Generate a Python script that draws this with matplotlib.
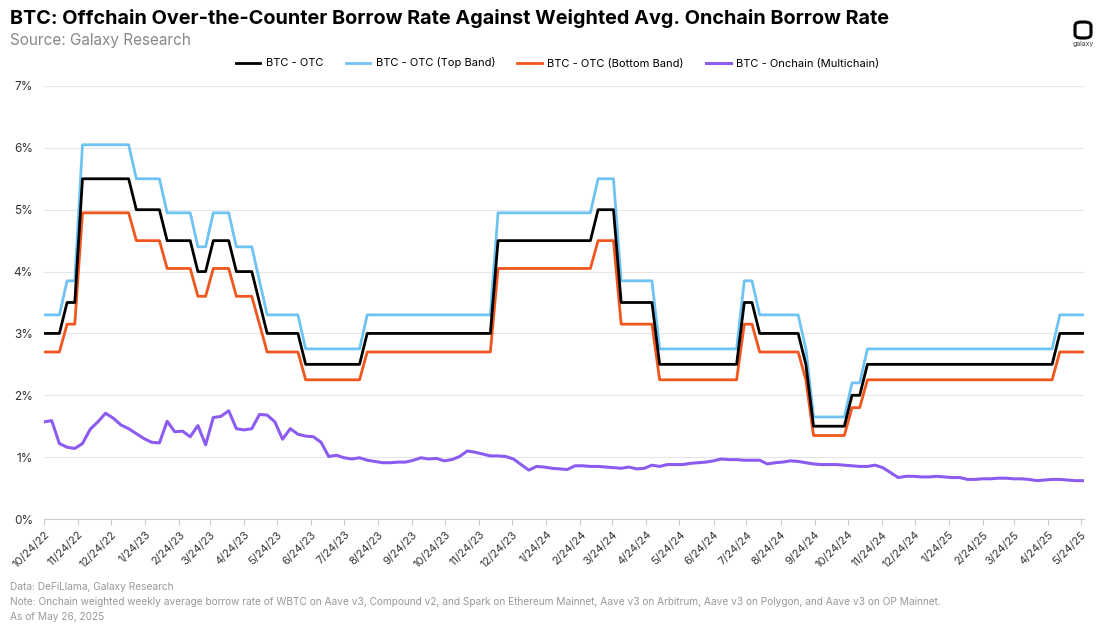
import pandas as pd
import matplotlib.pyplot as plt
from matplotlib.patches import FancyBboxPatch
from matplotlib.ticker import FuncFormatter

plt.rcParams['font.family'] = 'Inter'

# weekly dates
dates = pd.date_range('2022-10-24', periods=136, freq='7D')

# OTC rate: (first week index, rate %)
otc_steps = [(0, 3.0), (3, 3.5), (5, 5.5), (12, 5.0), (16, 4.5), (20, 4.0), (22, 4.5),
             (25, 4.0), (28, 3.5), (29, 3.0), (34, 2.5), (42, 3.0), (59, 4.5), (72, 5.0),
             (75, 3.5), (80, 2.5), (91, 3.5), (93, 3.0), (99, 2.5), (100, 1.5), (105, 2.0),
             (107, 2.5), (132, 3.0)]
top_steps = [(0, 3.3), (3, 3.85), (5, 6.05), (12, 5.5), (16, 4.95), (20, 4.4), (22, 4.95),
             (25, 4.4), (28, 3.85), (29, 3.3), (34, 2.75), (42, 3.3), (59, 4.95), (72, 5.5),
             (75, 3.85), (80, 2.75), (91, 3.85), (93, 3.3), (99, 2.75), (100, 1.65), (105, 2.2),
             (107, 2.75), (132, 3.3)]
bottom_steps = [(0, 2.7), (3, 3.15), (5, 4.95), (12, 4.5), (16, 4.05), (20, 3.6), (22, 4.05),
                (25, 3.6), (28, 3.15), (29, 2.7), (34, 2.25), (42, 2.7), (59, 4.05), (72, 4.5),
                (75, 3.15), (80, 2.25), (91, 3.15), (93, 2.7), (99, 2.25), (100, 1.35), (105, 1.8),
                (107, 2.25), (132, 2.7)]

onchain = [1.57, 1.59, 1.22, 1.16, 1.14, 1.22, 1.45, 1.57, 1.71, 1.63, 1.52, 1.46, 1.38, 1.30,
           1.24, 1.23, 1.58, 1.41, 1.42, 1.33, 1.51, 1.20, 1.64, 1.66, 1.75, 1.46, 1.44, 1.46,
           1.69, 1.68, 1.57, 1.29, 1.46, 1.37, 1.34, 1.33, 1.24, 1.01, 1.03, 0.99, 0.97, 0.99,
           0.95, 0.93, 0.91, 0.91, 0.92, 0.92, 0.95, 0.99, 0.97, 0.98, 0.94, 0.96, 1.01, 1.10,
           1.08, 1.05, 1.02, 1.02, 1.01, 0.97, 0.88, 0.79, 0.85, 0.84,
           0.82, 0.81, 0.80, 0.86, 0.86, 0.85, 0.85, 0.84, 0.83, 0.82, 0.84, 0.81, 0.82, 0.87,
           0.85, 0.88, 0.88, 0.88, 0.90, 0.91, 0.92, 0.94, 0.97, 0.96, 0.96, 0.95, 0.95, 0.95,
           0.89, 0.91, 0.92, 0.94, 0.93, 0.91, 0.89, 0.88, 0.88, 0.88, 0.87, 0.86, 0.85, 0.85,
           0.87, 0.83, 0.75, 0.67, 0.69, 0.69, 0.68, 0.68, 0.69, 0.68, 0.67, 0.67, 0.64, 0.64,
           0.65, 0.65, 0.66, 0.66, 0.65, 0.65, 0.64, 0.62, 0.63, 0.64, 0.64, 0.63, 0.62, 0.62]


def hold_steps(steps, n):
    vals = []
    for i in range(n):
        v = None
        for start, rate in steps:
            if i >= start:
                v = rate
        vals.append(v)
    return vals


n = len(dates)
otc = hold_steps(otc_steps, n)
top = hold_steps(top_steps, n)
bottom = hold_steps(bottom_steps, n)

fig = plt.figure(figsize=(11, 6.27), dpi=100)
ax = fig.add_axes([44 / 1100, 1 - 519 / 627, 1040 / 1100, 433 / 627])

ax.plot(dates, otc, color='black', lw=2, label='BTC - OTC', zorder=4)
ax.plot(dates, top, color='#6EC3F2', lw=2, label='BTC - OTC (Top Band)', zorder=3)
ax.plot(dates, bottom, color='#F0561D', lw=2, label='BTC - OTC (Bottom Band)', zorder=3)
ax.plot(dates, onchain, color='#8C5CF0', lw=2.2, label='BTC - Onchain (Multichain)', zorder=2)

ax.set_ylim(0, 7)
ax.set_yticks(range(8))
ax.yaxis.set_major_formatter(FuncFormatter(lambda v, p: f'{int(v)}%'))
ax.set_xlim(dates[0], dates[-1] + pd.Timedelta(days=1))

ticks = pd.date_range('2022-10-01', '2025-05-01', freq='MS') + pd.Timedelta(days=23)
ax.set_xticks(ticks)
ax.set_xticklabels([f'{d.month}/{d.day}/{d.strftime("%y")}' for d in ticks],
                   rotation=45, ha='right', rotation_mode='anchor', fontsize=8, color='#333333')
ax.tick_params(axis='y', length=0, labelsize=8.5, labelcolor='#333333', pad=8)
ax.tick_params(axis='x', length=4, color='#cccccc')
ax.grid(axis='y', color='#e6e6e6', lw=0.8)
for s in ['top', 'right', 'left']:
    ax.spines[s].set_visible(False)
ax.spines['bottom'].set_color('#cccccc')

fig.legend(loc='center', bbox_to_anchor=(0.507, 1 - 63 / 627), ncol=4, frameon=False,
           fontsize=8, handlelength=2.2, handletextpad=0.5, columnspacing=2.0)

fig.text(10 / 1100, 1 - 18 / 627, 'BTC: Offchain Over-the-Counter Borrow Rate Against Weighted Avg. Onchain Borrow Rate',
         fontsize=14.3, fontweight='bold', va='center')
fig.text(10 / 1100, 1 - 41 / 627, 'Source: Galaxy Research', fontsize=11, color='#888888', va='center')

notes = ['Data: DeFiLlama, Galaxy Research',
         'Note: Onchain weighted weekly average borrow rate of WBTC on Aave v3, Compound v2, and Spark on Ethereum Mainnet, Aave v3 on Arbitrum, Aave v3 on Polygon, and Aave v3 on OP Mainnet.',
         'As of May 26, 2025']
for i, t in enumerate(notes):
    fig.text(10 / 1100, 1 - (587 + 15 * i) / 627, t, fontsize=7.3, color='#999999', va='center')

# logo
fig.patches.append(FancyBboxPatch((1075 / 1100, 1 - 38 / 627), 16 / 1100, 16 / 627,
                                  boxstyle='round,pad=0,rounding_size=0.006',
                                  transform=fig.transFigure, fill=False, lw=2.2, ec='black'))
fig.text(1083 / 1100, 1 - 44 / 627, 'galaxy', fontsize=5, ha='center', va='center', color='#444444')

fig.savefig('out.png', dpi=100)
